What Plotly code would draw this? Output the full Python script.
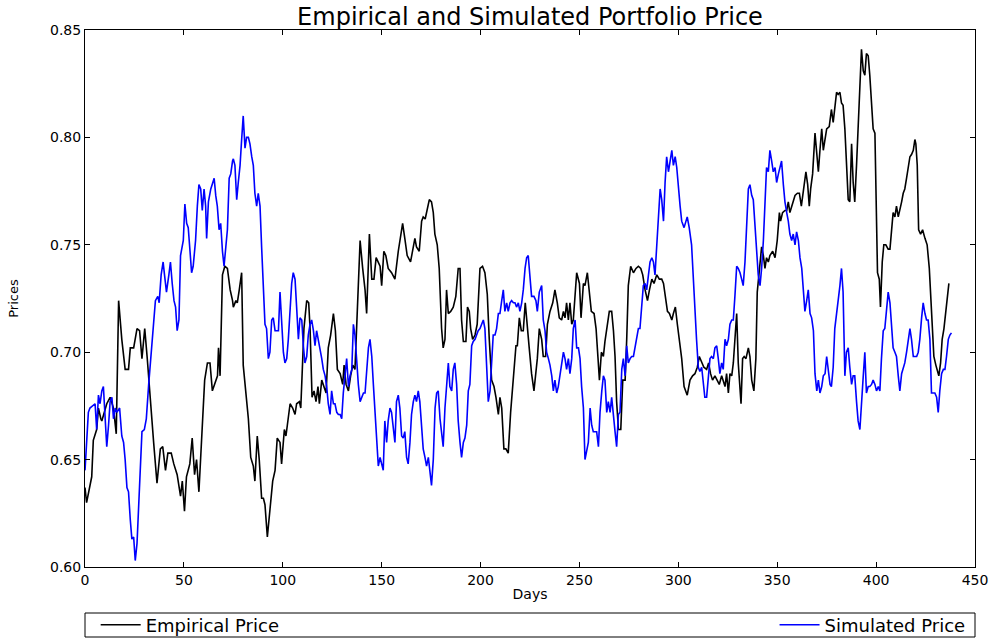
import plotly.graph_objects as go

# ---------------- Empirical price (black) ----------------
emp_days_1 = [0, 0.8, 3.4, 4.2, 5.9, 6.8, 8.0, 8.5, 11.0, 12.7, 14.4, 15.8, 17.0, 18.6, 20.3, 22.0, 22.9, 24.6, 26.3, 27.6,
              28.8, 30.2, 31.4, 33.1, 34.7, 36.4, 38.1, 39.3, 40.7, 41.9, 43.6, 44.9, 46.6, 48.3, 49.2, 50.3, 51.3, 53.0, 54.2, 55.4,
              56.4, 57.6, 58.8, 60.5, 61.9, 63.2, 64.4, 65.6, 67.0, 67.5, 68.3, 69.5, 70.7, 72.0, 73.4, 74.6]
emp_price_1 = [0.637, 0.630, 0.642, 0.659, 0.664, 0.674, 0.669, 0.668, 0.676, 0.679, 0.674, 0.662, 0.724, 0.706, 0.692, 0.692, 0.702, 0.702, 0.711, 0.710,
               0.697, 0.711, 0.698, 0.676, 0.658, 0.639, 0.655, 0.656, 0.645, 0.653, 0.653, 0.648, 0.643, 0.633, 0.640, 0.626, 0.642, 0.648, 0.660, 0.643,
               0.650, 0.635, 0.658, 0.687, 0.695, 0.695, 0.682, 0.685, 0.689, 0.702, 0.689, 0.736, 0.740, 0.739, 0.729, 0.724]

emp_days_2 = [75.0, 76.3, 77.0, 78.0, 79.2, 80.0, 81.4, 82.6, 83.8, 85.1, 85.9, 87.1, 88.1, 89.3, 90.2, 91.0, 92.2, 93.5, 94.9, 96.1,
              97.2, 98.6, 99.4, 100.8, 101.6, 102.3, 103.7, 105.0, 106.2, 107.0, 108.4, 109.1, 109.6, 110.7, 112.1, 113.1, 113.8, 114.8, 115.8, 116.8,
              117.8, 118.5, 119.7, 120.9, 121.9, 123.0, 124.2, 125.6, 126.6, 127.6, 129.0, 130.3, 131.0, 132.0, 133.2, 134.3, 135.4, 136.5, 137.4, 138.2,
              139.1, 140.4, 141.6, 142.4, 143.3, 143.8, 145.0, 146.1, 147.2, 148.3, 149.2]
emp_price_2 = [0.721, 0.724, 0.723, 0.729, 0.737, 0.694, 0.682, 0.669, 0.651, 0.647, 0.640, 0.661, 0.650, 0.632, 0.632, 0.629, 0.614, 0.627, 0.640, 0.645,
               0.660, 0.658, 0.648, 0.664, 0.661, 0.666, 0.676, 0.674, 0.671, 0.676, 0.677, 0.674, 0.689, 0.711, 0.724, 0.723, 0.711, 0.679, 0.682, 0.677,
               0.684, 0.676, 0.687, 0.684, 0.681, 0.702, 0.708, 0.718, 0.710, 0.692, 0.690, 0.685, 0.694, 0.685, 0.682, 0.689, 0.694, 0.692, 0.713, 0.739,
               0.752, 0.739, 0.729, 0.718, 0.742, 0.755, 0.734, 0.734, 0.744, 0.742, 0.740]

emp_days_3 = [150.0, 151.1, 152.1, 153.3, 155.0, 156.7, 158.4, 160.6, 161.7, 162.9, 164.6, 165.6, 166.8, 167.6, 169.0, 170.2, 171.0, 172.0, 172.7, 174.1,
              175.2, 176.1, 176.9, 178.1, 179.1, 180.3, 181.1, 182.0, 182.8, 183.7, 184.9, 186.2, 187.5, 188.7, 189.6, 190.4, 191.3, 192.6, 193.4, 194.3,
              195.0, 196.0, 197.2, 198.3, 199.7, 201.0, 202.2, 203.4, 204.4, 205.6, 206.8, 207.8, 209.0, 209.8, 210.7, 211.8, 212.8, 214.0, 215.2, 216.6,
              217.9, 218.6, 219.6, 220.6, 221.6, 222.6, 223.6, 224.6, 225.8, 227.0]
emp_price_3 = [0.731, 0.747, 0.745, 0.739, 0.737, 0.734, 0.747, 0.760, 0.753, 0.745, 0.742, 0.747, 0.753, 0.749, 0.747, 0.761, 0.763, 0.762, 0.765, 0.771,
               0.770, 0.765, 0.755, 0.750, 0.739, 0.711, 0.702, 0.706, 0.729, 0.718, 0.719, 0.721, 0.726, 0.739, 0.739, 0.715, 0.705, 0.705, 0.721, 0.719,
               0.711, 0.706, 0.708, 0.713, 0.739, 0.740, 0.737, 0.727, 0.706, 0.687, 0.684, 0.679, 0.671, 0.679, 0.674, 0.655, 0.655, 0.653, 0.672, 0.687,
               0.703, 0.703, 0.716, 0.710, 0.710, 0.723, 0.711, 0.702, 0.690, 0.682]

emp_days_4 = [228.7, 229.7, 230.9, 231.7, 232.9, 233.8, 235.1, 236.5, 237.6, 238.8, 239.8, 241.0, 241.9, 242.7, 243.5, 244.4, 245.2, 246.1, 246.9, 247.8,
              248.6, 250.0, 250.8, 252.0, 252.8, 254.0, 255.0, 256.0, 257.4, 258.4, 259.4, 260.1, 261.1, 262.1, 262.9, 264.1, 265.1, 266.3, 267.2, 268.0,
              268.8, 269.7, 270.9, 271.9, 273.1, 273.9, 274.7, 275.9, 277.3, 278.6, 279.8, 281.0, 282.0, 283.2, 284.4, 285.4, 286.6, 287.7, 289.1, 290.4,
              291.6, 292.5, 293.3, 294.5, 295.5, 296.7, 297.5, 298.5, 299.5, 300.5, 301.7, 302.9]
emp_price_4 = [0.697, 0.711, 0.706, 0.698, 0.698, 0.713, 0.719, 0.723, 0.729, 0.723, 0.716, 0.715, 0.719, 0.716, 0.723, 0.715, 0.723, 0.713, 0.715, 0.726,
               0.737, 0.732, 0.716, 0.732, 0.731, 0.737, 0.729, 0.719, 0.718, 0.711, 0.697, 0.687, 0.700, 0.698, 0.705, 0.713, 0.719, 0.719, 0.710, 0.698,
               0.677, 0.664, 0.664, 0.687, 0.687, 0.706, 0.731, 0.740, 0.737, 0.739, 0.740, 0.739, 0.736, 0.729, 0.724, 0.729, 0.734, 0.732, 0.736, 0.734,
               0.734, 0.732, 0.726, 0.719, 0.718, 0.715, 0.718, 0.721, 0.713, 0.706, 0.697, 0.684]

emp_days_5 = [304.5, 305.9, 307.2, 308.4, 309.6, 310.6, 311.8, 312.9, 314.3, 315.3, 316.3, 317.3, 318.5, 319.7, 320.7, 321.9, 322.7, 323.6, 324.4, 325.3,
              326.1, 327.0, 327.8, 328.6, 329.5, 330.3, 331.2, 331.7, 332.5, 333.3, 334.2, 335.4, 336.2, 337.1, 338.2, 339.2, 339.9, 340.9, 342.1, 343.0,
              343.8, 344.6, 345.5, 346.3, 347.7, 348.9, 350.0, 351.1, 351.7, 352.7, 353.9, 354.8, 355.6, 356.4, 357.8, 359.0, 360.2, 361.2, 362.2, 363.2,
              364.5, 365.4, 366.2, 366.9, 367.9, 369.1, 369.9, 370.8, 371.6, 372.5, 373.3, 374.2, 375.0, 376.3]
emp_price_5 = [0.680, 0.687, 0.689, 0.690, 0.693, 0.698, 0.695, 0.693, 0.692, 0.695, 0.690, 0.687, 0.689, 0.687, 0.685, 0.689, 0.687, 0.684, 0.690, 0.681,
               0.690, 0.689, 0.695, 0.705, 0.718, 0.695, 0.681, 0.676, 0.697, 0.698, 0.697, 0.702, 0.698, 0.687, 0.682, 0.697, 0.728, 0.739, 0.749, 0.745,
               0.739, 0.744, 0.742, 0.745, 0.747, 0.744, 0.752, 0.765, 0.761, 0.765, 0.766, 0.766, 0.770, 0.765, 0.770, 0.773, 0.774, 0.774, 0.768, 0.774,
               0.784, 0.778, 0.768, 0.776, 0.783, 0.802, 0.794, 0.784, 0.794, 0.804, 0.794, 0.799, 0.804, 0.805]

emp_days_6 = [377.4, 378.3, 379.1, 380.0, 380.8, 381.7, 382.5, 383.3, 384.2, 385.0, 385.9, 386.7, 387.6, 388.4, 389.2, 390.1, 390.9, 391.8, 392.6, 393.5,
              394.3, 395.1, 396.0, 396.8, 397.7, 398.5, 399.4, 400.2, 400.7, 401.6, 402.2, 403.1, 403.9, 404.9, 406.1, 407.0, 407.8, 408.6, 409.5, 410.3,
              411.2, 412.0, 412.9, 413.7, 414.5, 415.4, 416.2, 417.1, 417.9, 418.8, 419.6, 420.1, 420.8, 421.5, 422.5, 423.5, 424.7, 425.8, 426.9, 427.7,
              428.5, 429.2, 430.2, 430.9, 431.7, 432.6, 433.4, 434.3, 435.3, 436.0, 436.8]
emp_price_6 = [0.813, 0.807, 0.815, 0.821, 0.820, 0.821, 0.816, 0.815, 0.804, 0.786, 0.771, 0.770, 0.797, 0.779, 0.770, 0.787, 0.807, 0.826, 0.841, 0.831,
               0.829, 0.839, 0.838, 0.829, 0.818, 0.804, 0.802, 0.768, 0.737, 0.734, 0.721, 0.742, 0.750, 0.750, 0.748, 0.748, 0.757, 0.765, 0.763, 0.768,
               0.763, 0.766, 0.770, 0.774, 0.776, 0.781, 0.787, 0.791, 0.792, 0.794, 0.799, 0.797, 0.787, 0.757, 0.755, 0.757, 0.753, 0.750, 0.739, 0.726,
               0.715, 0.698, 0.694, 0.692, 0.689, 0.695, 0.706, 0.711, 0.719, 0.727, 0.732]

# ---------------- Simulated price (blue) ----------------
sim_days_1 = [0, 1.7, 2.5, 3.9, 5.1, 5.9, 6.8, 7.6, 8.5, 9.3, 10.2, 11.0, 11.9, 12.7, 13.6, 14.4, 15.3, 16.1, 17.5, 18.6,
              19.5, 20.3, 21.2, 22.0, 22.9, 23.7, 24.6, 25.4, 26.3, 27.1, 28.0, 28.8, 30.0, 31.0, 32.2, 33.4, 34.4, 35.6, 36.8, 37.5,
              38.5, 39.5, 40.2, 41.2, 42.4, 43.2, 44.1, 45.0, 45.8, 46.6, 47.5, 48.3, 49.7, 50.5, 51.4, 52.2, 53.1, 53.9, 54.7, 55.9,
              56.8, 57.6, 58.5, 59.3, 60.2, 61.0, 61.5, 62.4, 63.6, 64.4, 65.3, 66.1, 66.9, 67.8, 68.6, 69.5, 70.3, 71.2, 72.0, 72.9,
              73.7, 74.6]
sim_price_1 = [0.645, 0.672, 0.674, 0.675, 0.676, 0.664, 0.680, 0.676, 0.682, 0.684, 0.671, 0.656, 0.666, 0.677, 0.679, 0.669, 0.674, 0.672, 0.674, 0.661,
               0.658, 0.650, 0.637, 0.635, 0.622, 0.613, 0.614, 0.603, 0.611, 0.626, 0.645, 0.663, 0.664, 0.669, 0.685, 0.700, 0.708, 0.724, 0.726, 0.723,
               0.736, 0.742, 0.736, 0.728, 0.736, 0.742, 0.732, 0.724, 0.721, 0.710, 0.715, 0.745, 0.752, 0.769, 0.760, 0.758, 0.747, 0.737, 0.740, 0.752,
               0.768, 0.778, 0.776, 0.766, 0.776, 0.768, 0.753, 0.770, 0.776, 0.778, 0.781, 0.773, 0.768, 0.757, 0.760, 0.747, 0.740, 0.749, 0.757, 0.781,
               0.783, 0.789]

sim_days_2 = [75.0, 75.8, 76.7, 77.5, 78.4, 79.2, 80.0, 80.9, 81.7, 82.6, 83.4, 84.3, 85.1, 85.9, 86.8, 87.6, 88.5, 89.3, 90.2, 91.0,
              91.8, 92.7, 93.5, 94.4, 95.2, 96.1, 96.9, 97.8, 98.6, 99.4, 100.3, 101.1, 102.0, 102.8, 103.7, 104.5, 105.3, 106.2, 107.0, 107.9,
              108.7, 109.6, 110.4, 111.2, 112.1, 112.9, 113.8, 114.6, 115.5, 116.3, 117.1, 118.0, 118.8, 119.7, 120.5, 121.4, 122.2, 123.0, 123.9, 124.7,
              125.6, 126.4, 127.3, 128.1, 129.0, 129.8, 130.6, 131.5, 132.3, 133.2, 134.0, 134.9, 135.7, 136.5, 137.4, 138.2, 139.1, 139.9, 140.8, 141.6,
              142.4, 143.3, 144.1, 145.0, 145.8, 146.7, 147.5, 148.3, 149.2]
sim_price_2 = [0.790, 0.787, 0.771, 0.779, 0.787, 0.799, 0.810, 0.795, 0.800, 0.800, 0.797, 0.791, 0.787, 0.774, 0.768, 0.774, 0.768, 0.749, 0.728, 0.713,
               0.711, 0.697, 0.700, 0.715, 0.716, 0.710, 0.710, 0.710, 0.728, 0.713, 0.700, 0.695, 0.697, 0.706, 0.719, 0.732, 0.737, 0.734, 0.721, 0.706,
               0.716, 0.715, 0.703, 0.695, 0.698, 0.708, 0.713, 0.715, 0.710, 0.703, 0.710, 0.706, 0.702, 0.697, 0.692, 0.689, 0.684, 0.676, 0.671, 0.682,
               0.676, 0.676, 0.672, 0.671, 0.671, 0.669, 0.681, 0.689, 0.697, 0.684, 0.689, 0.692, 0.713, 0.708, 0.694, 0.685, 0.677, 0.679, 0.681, 0.681,
               0.690, 0.702, 0.706, 0.698, 0.685, 0.671, 0.658, 0.647, 0.651]

sim_days_3 = [150.8, 151.6, 152.5, 153.3, 154.2, 155.0, 155.8, 156.7, 157.5, 158.4, 159.2, 160.1, 160.9, 161.7, 162.6, 163.4, 164.3, 165.1, 166.0, 166.8,
              167.6, 168.5, 169.3, 170.2, 171.0, 171.9, 172.7, 173.6, 174.4, 175.2, 176.1, 177.0, 177.8, 178.6, 179.5, 180.3, 181.1, 182.0, 182.8, 183.7,
              184.5, 185.4, 186.2, 187.0, 187.9, 188.7, 189.6, 190.4, 191.3, 192.1, 193.0, 193.8, 194.6, 195.5, 196.3, 197.2, 198.0, 198.8, 199.7, 200.5,
              201.4, 202.2, 203.1, 203.9, 204.8, 205.6, 206.4, 207.3, 208.1, 209.0, 209.8, 210.7, 211.5, 212.3, 213.2, 214.0, 214.9, 215.7, 216.6, 217.4,
              218.2, 219.1, 219.9, 220.8, 221.6, 222.5, 223.3, 224.1, 225.0, 225.8, 227.0]
sim_price_3 = [0.645, 0.668, 0.658, 0.668, 0.674, 0.672, 0.664, 0.658, 0.677, 0.680, 0.674, 0.661, 0.660, 0.663, 0.651, 0.648, 0.658, 0.671, 0.677, 0.680,
               0.677, 0.682, 0.677, 0.666, 0.655, 0.651, 0.647, 0.651, 0.645, 0.638, 0.650, 0.674, 0.681, 0.682, 0.669, 0.661, 0.656, 0.674, 0.684, 0.695,
               0.684, 0.682, 0.692, 0.695, 0.685, 0.668, 0.658, 0.651, 0.658, 0.660, 0.666, 0.682, 0.685, 0.703, 0.705, 0.706, 0.708, 0.710, 0.711, 0.713,
               0.715, 0.711, 0.695, 0.677, 0.682, 0.698, 0.708, 0.708, 0.711, 0.718, 0.718, 0.724, 0.729, 0.719, 0.723, 0.719, 0.723, 0.724, 0.723, 0.723,
               0.721, 0.723, 0.719, 0.723, 0.729, 0.739, 0.744, 0.745, 0.736, 0.726, 0.726]

sim_days_4 = [228.0, 228.7, 229.7, 230.9, 231.7, 232.6, 233.4, 234.3, 235.1, 236.0, 236.8, 237.6, 238.5, 239.3, 240.2, 241.0, 241.9, 242.7, 243.5, 244.4,
              245.2, 246.1, 246.9, 247.8, 248.6, 249.5, 250.3, 251.1, 252.0, 252.8, 253.7, 254.5, 255.4, 256.2, 257.0, 257.9, 258.7, 259.6, 260.4, 261.3,
              262.1, 262.9, 263.8, 264.6, 265.5, 266.3, 267.2, 268.0, 268.8, 269.7, 270.5, 271.4, 272.2, 273.1, 273.9, 274.7, 275.6, 276.4, 277.3, 278.1,
              279.0, 279.8, 280.6, 281.5, 282.3, 283.2, 284.0, 284.9, 285.7, 286.6, 287.4, 288.2, 289.1, 289.9, 290.8, 291.6, 292.5, 293.3, 294.1, 295.0,
              295.8, 296.7, 297.5, 298.4, 299.2, 300.0, 300.9, 301.7, 302.9]
sim_price_4 = [0.724, 0.719, 0.728, 0.731, 0.715, 0.710, 0.700, 0.697, 0.694, 0.689, 0.682, 0.687, 0.681, 0.684, 0.690, 0.694, 0.700, 0.697, 0.692, 0.697,
               0.690, 0.697, 0.711, 0.715, 0.702, 0.702, 0.697, 0.684, 0.674, 0.650, 0.655, 0.658, 0.674, 0.666, 0.663, 0.663, 0.663, 0.656, 0.672, 0.682,
               0.689, 0.687, 0.672, 0.677, 0.672, 0.679, 0.669, 0.663, 0.656, 0.671, 0.672, 0.692, 0.697, 0.689, 0.703, 0.695, 0.697, 0.698, 0.698, 0.702,
               0.706, 0.711, 0.711, 0.723, 0.731, 0.732, 0.729, 0.736, 0.742, 0.744, 0.742, 0.736, 0.749, 0.765, 0.776, 0.771, 0.761, 0.779, 0.791, 0.784,
               0.789, 0.794, 0.787, 0.791, 0.786, 0.776, 0.768, 0.761, 0.758]

sim_days_5 = [304.5, 305.5, 306.7, 307.5, 308.4, 309.2, 310.1, 310.9, 311.8, 312.6, 313.4, 314.3, 315.1, 316.0, 316.8, 317.7, 318.5, 319.4, 320.2, 321.0,
              321.9, 322.7, 323.6, 324.4, 325.3, 326.1, 327.0, 327.8, 328.6, 329.5, 330.3, 331.2, 332.0, 332.8, 333.7, 334.5, 335.4, 336.2, 337.1, 337.9,
              338.7, 339.6, 340.4, 341.3, 342.1, 343.0, 343.8, 344.6, 345.5, 346.3, 347.2, 348.0, 348.9, 349.7, 350.6, 351.4, 352.2, 353.1, 353.9, 354.8,
              355.6, 356.4, 357.3, 358.1, 359.0, 359.8, 360.7, 361.5, 362.4, 363.2, 364.0, 364.9, 365.7, 366.6, 367.4, 368.3, 369.1, 370.0, 370.8, 371.6,
              372.5, 373.3, 374.2, 375.0, 375.8, 376.7]
sim_price_5 = [0.763, 0.758, 0.750, 0.734, 0.723, 0.706, 0.693, 0.691, 0.693, 0.685, 0.679, 0.679, 0.687, 0.697, 0.698, 0.697, 0.702, 0.703, 0.697, 0.690,
               0.695, 0.692, 0.706, 0.703, 0.706, 0.713, 0.715, 0.715, 0.726, 0.740, 0.739, 0.737, 0.734, 0.731, 0.742, 0.758, 0.776, 0.778, 0.773, 0.771,
               0.761, 0.749, 0.736, 0.731, 0.739, 0.752, 0.774, 0.786, 0.784, 0.794, 0.789, 0.784, 0.786, 0.779, 0.783, 0.786, 0.789, 0.778, 0.770, 0.765,
               0.761, 0.755, 0.752, 0.755, 0.750, 0.756, 0.752, 0.744, 0.739, 0.729, 0.719, 0.724, 0.729, 0.718, 0.716, 0.710, 0.690, 0.682, 0.687, 0.681,
               0.684, 0.689, 0.690, 0.698, 0.692, 0.685]

sim_days_6 = [377.4, 378.3, 379.1, 379.9, 380.8, 381.7, 382.5, 383.3, 384.2, 385.0, 385.9, 386.7, 387.6, 388.4, 389.2, 390.1, 390.9, 391.8, 392.6, 393.5,
              394.3, 395.1, 396.0, 396.8, 397.7, 398.5, 399.4, 400.2, 401.1, 401.9, 402.7, 403.6, 404.4, 405.3, 406.1, 407.0, 407.8, 408.6, 409.5, 410.3,
              411.2, 412.0, 412.9, 413.7, 414.5, 415.4, 416.2, 417.1, 417.9, 418.8, 419.6, 420.5, 421.3, 422.1, 423.0, 423.8, 424.7, 425.5, 426.3, 427.2,
              428.0, 428.9, 429.7, 430.6, 431.4, 432.2, 433.1, 434.0, 434.8, 435.6, 436.5, 437.3, 438.1]
sim_price_6 = [0.684, 0.693, 0.711, 0.716, 0.724, 0.731, 0.739, 0.728, 0.689, 0.700, 0.702, 0.693, 0.685, 0.689, 0.689, 0.677, 0.668, 0.664, 0.674, 0.689,
               0.700, 0.681, 0.684, 0.684, 0.685, 0.687, 0.685, 0.682, 0.684, 0.682, 0.697, 0.710, 0.711, 0.719, 0.728, 0.723, 0.713, 0.702, 0.700, 0.698,
               0.689, 0.682, 0.690, 0.693, 0.695, 0.700, 0.706, 0.711, 0.706, 0.698, 0.698, 0.698, 0.700, 0.706, 0.716, 0.723, 0.718, 0.715, 0.715, 0.706,
               0.681, 0.681, 0.681, 0.679, 0.672, 0.682, 0.690, 0.692, 0.692, 0.698, 0.706, 0.708, 0.709]

x_ticks = [0, 50, 100, 150, 200, 250, 300, 350, 400, 450]
y_ticks = [0.60, 0.65, 0.70, 0.75, 0.80, 0.85]

emp_segs = [(emp_days_1, emp_price_1), (emp_days_2, emp_price_2), (emp_days_3, emp_price_3),
            (emp_days_4, emp_price_4), (emp_days_5, emp_price_5), (emp_days_6, emp_price_6)]
sim_segs = [(sim_days_1, sim_price_1), (sim_days_2, sim_price_2), (sim_days_3, sim_price_3),
            (sim_days_4, sim_price_4), (sim_days_5, sim_price_5), (sim_days_6, sim_price_6)]

def join(segs, name):
    xs, ys = [], []
    for i, (d, p) in enumerate(segs):
        assert len(d) == len(p), f"{name} segment {i+1}: {len(d)} days vs {len(p)} prices"
        xs += d
        ys += p
    return xs, ys

emp_x, emp_y = join(emp_segs, "emp")
sim_x, sim_y = join(sim_segs, "sim")

FONT = "DejaVu Sans"

fig = go.Figure()
fig.add_trace(go.Scatter(x=emp_x, y=emp_y, mode="lines", name="Empirical Price",
                         line=dict(color="black", width=1.6), legend="legend", showlegend=True))
fig.add_trace(go.Scatter(x=sim_x, y=sim_y, mode="lines", name="Simulated Price",
                         line=dict(color="#0000ff", width=1.6), legend="legend2", showlegend=True))

# Plot box at screen x 85..975 and y 30..567 (body margin removed below).
W, H = 991, 640
L, R, T, B = 85, 16, 30, 73
plot_bottom = H - B
plot_h = H - T - B

def py(screen_y):
    return (plot_bottom - screen_y) / plot_h

fig.update_layout(
    width=W, height=H,
    margin=dict(l=L, r=R, t=T, b=B, autoexpand=False),
    paper_bgcolor="white", plot_bgcolor="white",
    showlegend=True,
    font=dict(family=FONT, color="black", size=14),
    title=dict(text="Empirical and Simulated Portfolio Price", x=530 / W, xanchor="center",
               y=1 - 17 / H, yanchor="middle",
               font=dict(size=24, family=FONT, color="black")),
    xaxis=dict(range=[0, 450], tickvals=x_ticks, ticks="inside", ticklen=5, tickcolor="black",
               mirror="ticks", showline=True, linecolor="black", linewidth=1, showgrid=False, zeroline=False,
               tickfont=dict(size=14), title=dict(text="Days", font=dict(size=14), standoff=2)),
    yaxis=dict(range=[0.60, 0.85], tickvals=y_ticks, tickformat=".2f", ticks="inside", ticklen=5, tickcolor="black",
               mirror="ticks", showline=True, linecolor="black", linewidth=1, showgrid=False, zeroline=False,
               tickfont=dict(size=14), title=dict(text="Prices", font=dict(size=13), standoff=28)),
    legend=dict(x=0.012, xanchor="left", y=py(625), yanchor="middle", orientation="h", itemwidth=40,
                bgcolor="rgba(0,0,0,0)", borderwidth=0, font=dict(size=18, family=FONT)),
    legend2=dict(x=0.995, xanchor="right", y=py(625), yanchor="middle", orientation="h", itemwidth=40,
                 bgcolor="rgba(0,0,0,0)", borderwidth=0, font=dict(size=18, family=FONT)),
    shapes=[dict(type="rect", xref="paper", yref="paper", x0=0, x1=1, y0=py(613), y1=py(637),
                 line=dict(color="black", width=1), fillcolor="rgba(0,0,0,0)")],
)

fig.write_html("out.html", config={"displayModeBar": False},
               post_script="document.body.style.margin='0';")
